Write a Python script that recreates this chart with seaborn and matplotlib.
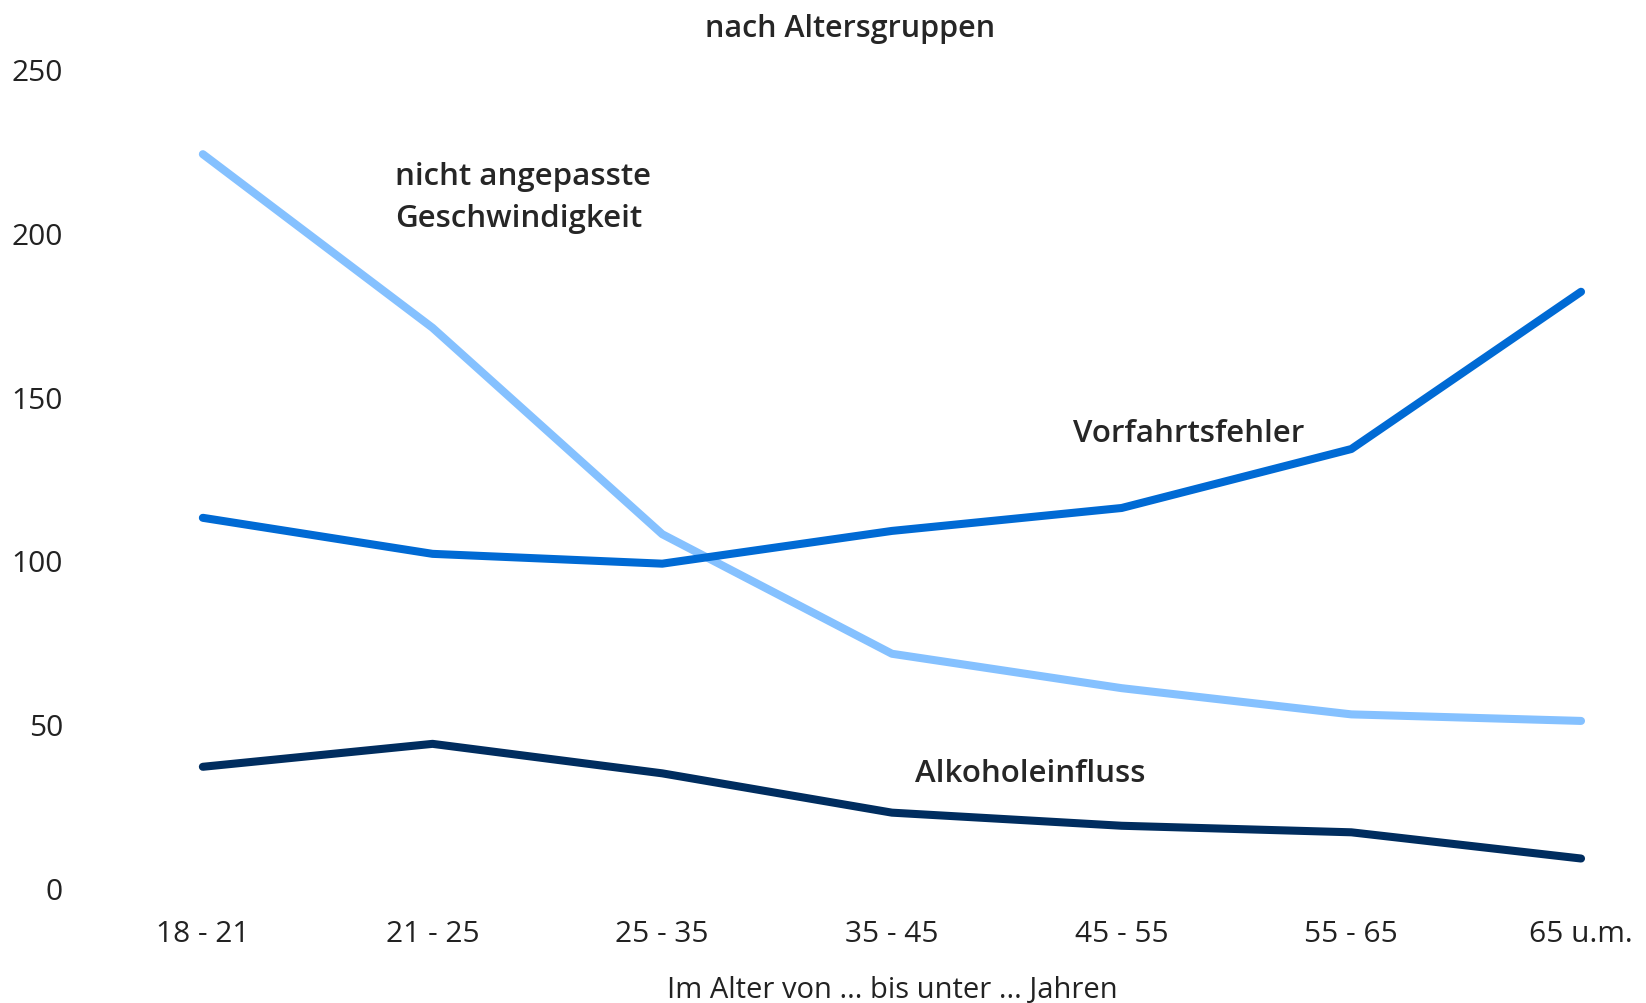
import matplotlib
matplotlib.use("Agg")
import matplotlib.pyplot as plt
import seaborn as sns
import pandas as pd

altersgruppen = ["18 - 21", "21 - 25", "25 - 35", "35 - 45", "45 - 55", "55 - 65", "65 u.m."]
geschwindigkeit = [224, 171, 108, 71.5, 61, 53, 51]
vorfahrt = [113, 102, 99, 109, 116, 134, 182]
alkohol = [37, 44, 35, 23, 19, 17, 9]

sns.set_style("white")
plt.rcParams["font.family"] = ["Open Sans", "DejaVu Sans"]

df = pd.DataFrame({
    "Alter": altersgruppen * 3,
    "Wert": geschwindigkeit + vorfahrt + alkohol,
    "Ursache": (["nicht angepasste Geschwindigkeit"] * 7 + ["Vorfahrtsfehler"] * 7
                + ["Alkoholeinfluss"] * 7),
})

farben = {
    "nicht angepasste Geschwindigkeit": "#85C1FF",
    "Vorfahrtsfehler": "#006AD4",
    "Alkoholeinfluss": "#002D5F",
}

fig = plt.figure(figsize=(16.46, 10.04), dpi=100)
ax = fig.add_axes([88 / 1646, 115 / 1004, (1604 - 88) / 1646, (889 - 70) / 1004])

sns.lineplot(data=df, x="Alter", y="Wert", hue="Ursache", palette=farben,
             linewidth=5.8, sort=False, legend=False, ax=ax,
             solid_capstyle="round")

ax.set_xlim(-0.5, 6.1)
ax.set_ylim(0, 250)
ax.set_yticks([0, 50, 100, 150, 200, 250])
sns.despine(ax=ax, left=True, bottom=True)
ax.tick_params(axis="both", length=0, labelsize=21.5, colors="#222222")
ax.tick_params(axis="y", pad=18)
ax.tick_params(axis="x", pad=22)
ax.set_ylabel("")
ax.set_xlabel("Im Alter von ... bis unter ... Jahren", fontsize=21, labelpad=20,
              color="#222222")
ax.xaxis.label.set_x(3.5 / 6.6)
ax.set_title("nach Altersgruppen", fontsize=22, fontweight="semibold", pad=24,
             x=0.503)

ax.text(0.836, 211, "nicht angepasste\nGeschwindigkeit", fontsize=22.5,
        fontweight="semibold", ha="left", va="center", linespacing=1.5)
ax.text(3.79, 139, "Vorfahrtsfehler", fontsize=22.5, fontweight="semibold",
        ha="left", va="center")
ax.text(3.10, 35, "Alkoholeinfluss", fontsize=22.5, fontweight="semibold",
        ha="left", va="center")

fig.savefig("out.png", dpi=100)
